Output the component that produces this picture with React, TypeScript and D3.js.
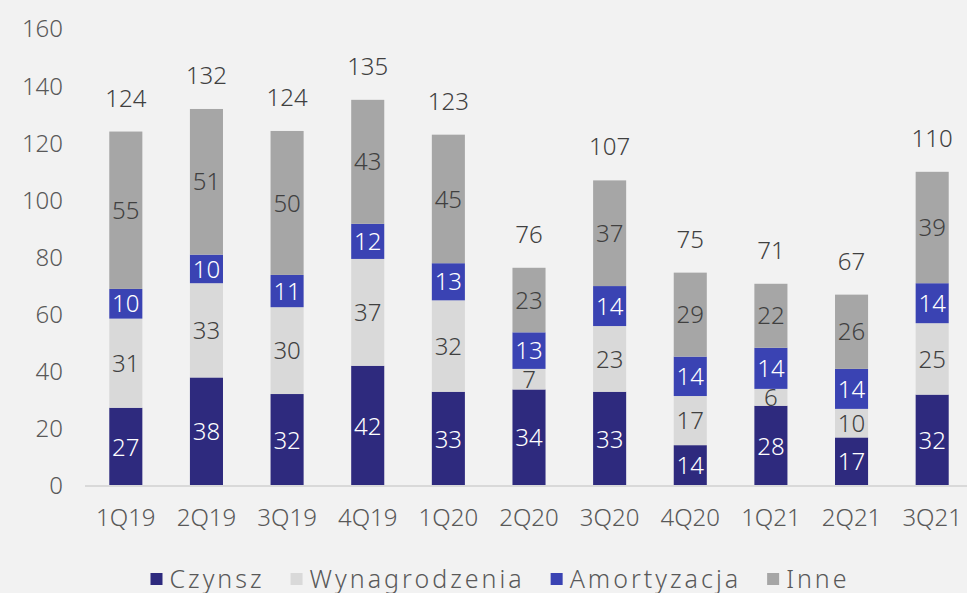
import React, { useMemo } from "react";
import * as d3 from "d3";

// data (segment labels are rounded)
const categories = ["1Q19", "2Q19", "3Q19", "4Q19", "1Q20", "2Q20", "3Q20", "4Q20", "1Q21", "2Q21", "3Q21"];
const czynsz = [27.4, 38, 32.2, 42.1, 33, 33.8, 33, 14.3, 28.1, 17, 32];
const wynagrodzenia = [31.2, 33, 30.4, 37.4, 32, 7.2, 23, 17.2, 5.9, 10, 25];
const amortyzacja = [10.4, 10, 11.3, 12.3, 13, 12.8, 14, 13.8, 14.4, 14, 14];
const inne = [55.1, 51, 50.4, 43.4, 45, 22.6, 37, 29.4, 22.4, 26, 39];
const totals = [124, 132, 124, 135, 123, 76, 107, 75, 71, 67, 110];
const yTicks = [0, 20, 40, 60, 80, 100, 120, 140, 160];

const seriesNames = ["Czynsz", "Wynagrodzenia", "Amortyzacja", "Inne"];
const seriesColors = ["#2e2a7e", "#d9d9d9", "#3a43b3", "#a6a6a6"];
const labelColors = ["#ffffff", "#404040", "#ffffff", "#404040"];

const W = 967;
const H = 593;
const FONT = "'Noto Sans', sans-serif";
const WEIGHT = 300;

const App = () => {
  const rows = categories.map((c, i) => ({
    cat: c,
    Czynsz: czynsz[i],
    Wynagrodzenia: wynagrodzenia[i],
    Amortyzacja: amortyzacja[i],
    Inne: inne[i],
  }));

  const stacked = d3.stack<any>().keys(seriesNames)(rows);

  const x = d3.scaleBand().domain(categories).range([85.5, 972.5]).paddingInner(0.59).paddingOuter(0.295);
  const y = d3.scaleLinear().domain([0, 160]).range([486, 29]);

  //legend layout, measured with canvas
  const legend = useMemo(() => {
    const ctx = document.createElement("canvas").getContext("2d");
    const ls = 3;
    const widths = seriesNames.map((n) => {
      if (!ctx) return n.length * 16;
      ctx.font = `${WEIGHT} 25px ${FONT}`;
      return ctx.measureText(n).width + ls * n.length;
    });
    const sq = 12, gapText = 7, gapItem = 26;
    const total = d3.sum(widths) + seriesNames.length * (sq + gapText) + gapItem * (seriesNames.length - 1);
    let cx = 500 - total / 2;
    return seriesNames.map((n, i) => {
      const item = { name: n, color: seriesColors[i], x: cx };
      cx += sq + gapText + widths[i] + gapItem;
      return item;
    });
  }, []);

  return (
    <svg width={W} height={H} style={{ display: "block", position: "absolute", left: 0, top: 0, background: "#f2f2f2" }}>
      <rect x={0} y={0} width={W} height={H} fill="#f2f2f2" />

      {/* y tick labels */}
      {yTicks.map((t) => (
        <text key={t} x={63} y={y(t)} dy="0.35em" textAnchor="end" fontFamily={FONT} fontWeight={WEIGHT} fontSize={24} fill="#595959">
          {t}
        </text>
      ))}

      {/* bars */}
      {stacked.map((s, si) => (
        <g key={s.key}>
          {s.map((d, i) => (
            <rect
              key={i}
              x={x(categories[i])}
              y={y(d[1])}
              width={x.bandwidth()}
              height={y(d[0]) - y(d[1])}
              fill={seriesColors[si]}
            />
          ))}
          {s.map((d, i) => (
            <text
              key={"l" + i}
              x={(x(categories[i]) ?? 0) + x.bandwidth() / 2}
              y={(y(d[0]) + y(d[1])) / 2}
              dy="0.36em"
              textAnchor="middle"
              fontFamily={FONT}
              fontWeight={WEIGHT}
              fontSize={24}
              fill={labelColors[si]}
            >
              {Math.round(d[1] - d[0])}
            </text>
          ))}
        </g>
      ))}

      {/* axis line */}
      <line x1={85} x2={W} y1={y(0)} y2={y(0)} stroke="#d9d9d9" strokeWidth={2} />

      {/* totals */}
      {categories.map((c, i) => (
        <text
          key={c}
          x={(x(c) ?? 0) + x.bandwidth() / 2}
          y={y(stacked[3][i][1]) - 25}
          textAnchor="middle"
          fontFamily={FONT}
          fontWeight={WEIGHT}
          fontSize={24}
          fill="#404040"
        >
          {totals[i]}
        </text>
      ))}

      {/* x labels */}
      {categories.map((c) => (
        <text key={c} x={(x(c) ?? 0) + x.bandwidth() / 2} y={526} textAnchor="middle" fontFamily={FONT} fontWeight={WEIGHT} fontSize={24} fill="#595959">
          {c}
        </text>
      ))}

      {/* legend */}
      {legend.map((l) => (
        <g key={l.name}>
          <rect x={l.x} y={573} width={12} height={12} fill={l.color} />
          <text x={l.x + 19} y={588} fontFamily={FONT} fontWeight={WEIGHT} fontSize={25} letterSpacing={3} fill="#595959">
            {l.name}
          </text>
        </g>
      ))}
    </svg>
  );
};

export default App;
